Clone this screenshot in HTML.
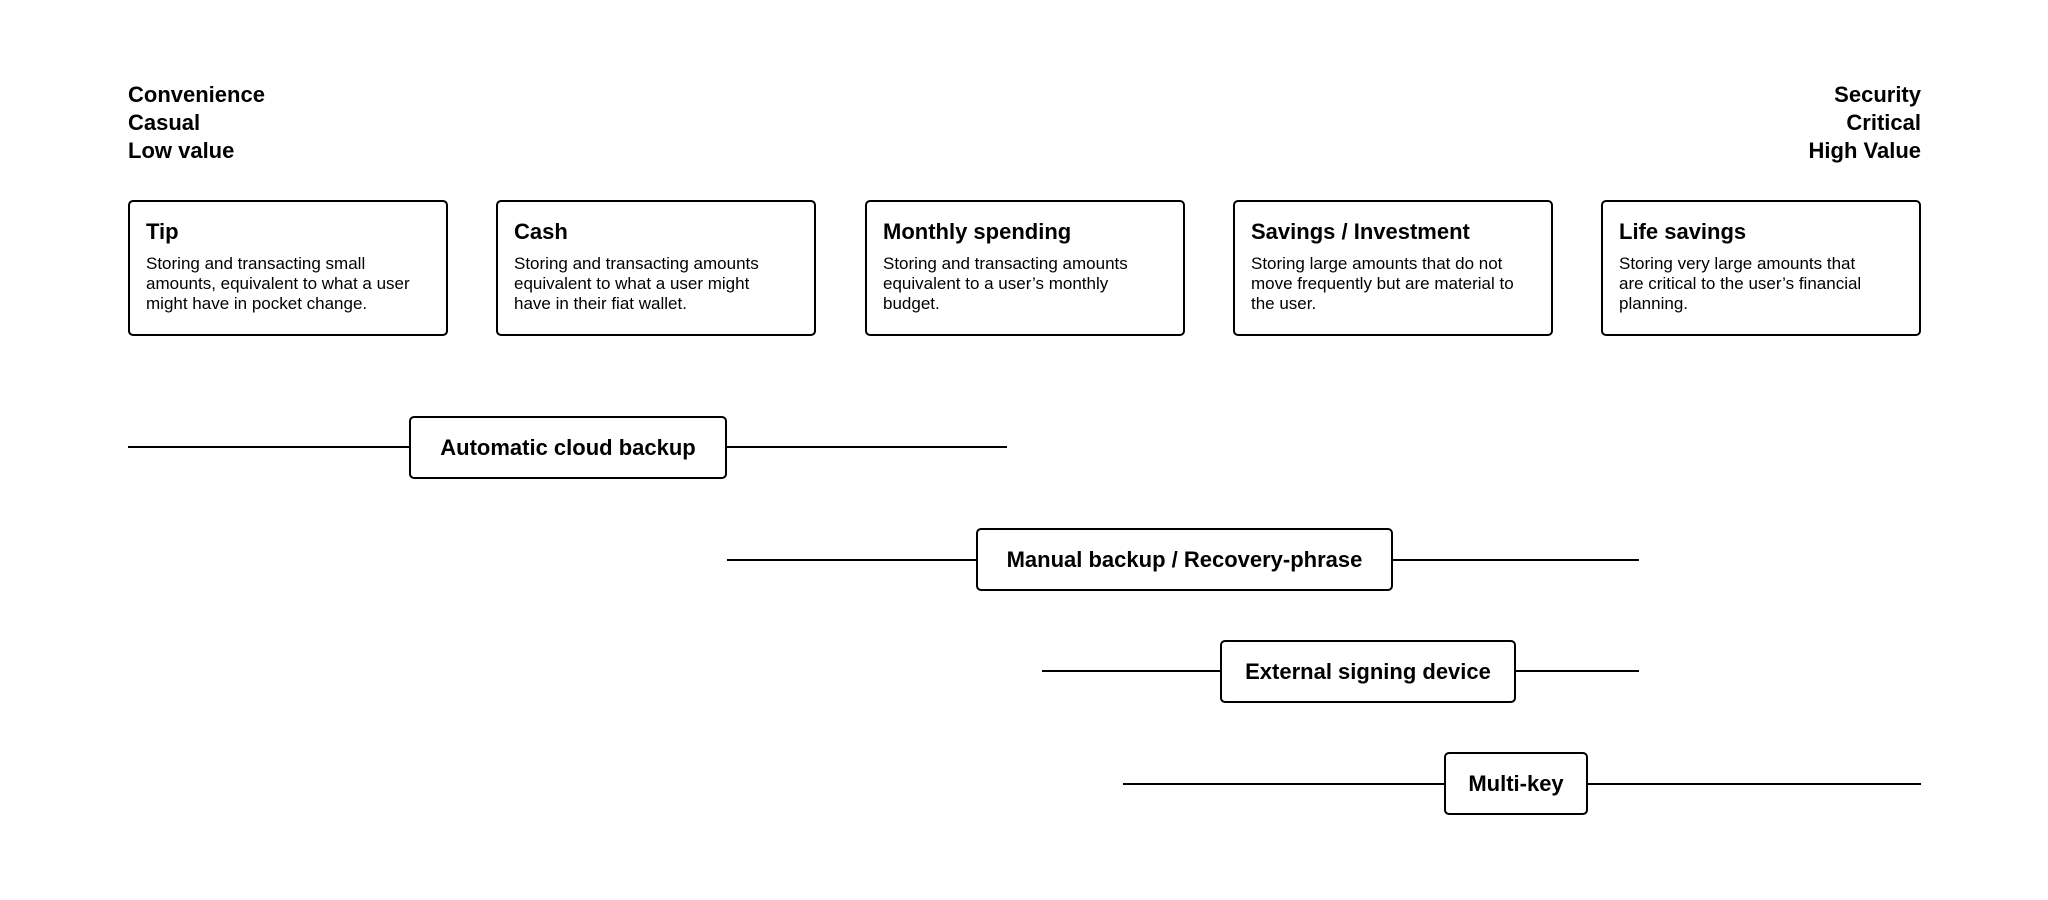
<!DOCTYPE html>
<html><head><meta charset="utf-8"><style>
*{margin:0;padding:0;box-sizing:border-box}
body{width:2048px;height:900px;background:#fff;position:relative;font-family:"Liberation Sans",sans-serif;color:#000;overflow:hidden}
.hdr{position:absolute;top:81px;font-weight:bold;font-size:22px;line-height:28px}
.card{position:absolute;top:200px;width:320px;height:136px;border:2px solid #000;border-radius:5px;padding:17px 16px}
.card h3{font-size:22px;line-height:26px;font-weight:bold;margin-bottom:9px}
.card p{font-size:17px;line-height:20px;white-space:nowrap}
.line{position:absolute;height:2px;background:#000}
.box{position:absolute;height:63px;border:2px solid #000;border-radius:5px;background:#fff;font-weight:bold;font-size:22px;line-height:59px;text-align:center;white-space:nowrap}
</style></head><body>
<div class="hdr" style="left:128px">Convenience<br>Casual<br>Low value</div>
<div class="hdr" style="right:127px;text-align:right">Security<br>Critical<br>High Value</div>

<div class="card" style="left:128px"><h3>Tip</h3><p>Storing and transacting small<br>amounts, equivalent to what a user<br>might have in pocket change.</p></div>
<div class="card" style="left:496px"><h3>Cash</h3><p>Storing and transacting amounts<br>equivalent to what a user might<br>have in their fiat wallet.</p></div>
<div class="card" style="left:865px"><h3>Monthly spending</h3><p>Storing and transacting amounts<br>equivalent to a user’s monthly<br>budget.</p></div>
<div class="card" style="left:1233px"><h3>Savings / Investment</h3><p>Storing large amounts that do not<br>move frequently but are material to<br>the user.</p></div>
<div class="card" style="left:1601px"><h3>Life savings</h3><p>Storing very large amounts that<br>are critical to the user’s financial<br>planning.</p></div>

<div class="line" style="left:128px;width:879px;top:446px"></div>
<div class="box" style="left:409px;width:318px;top:416px">Automatic cloud backup</div>

<div class="line" style="left:727px;width:912px;top:559px"></div>
<div class="box" style="left:976px;width:417px;top:528px">Manual backup / Recovery-phrase</div>

<div class="line" style="left:1042px;width:597px;top:670px"></div>
<div class="box" style="left:1220px;width:296px;top:640px">External signing device</div>

<div class="line" style="left:1123px;width:798px;top:783px"></div>
<div class="box" style="left:1444px;width:144px;top:752px">Multi-key</div>
</body></html>
